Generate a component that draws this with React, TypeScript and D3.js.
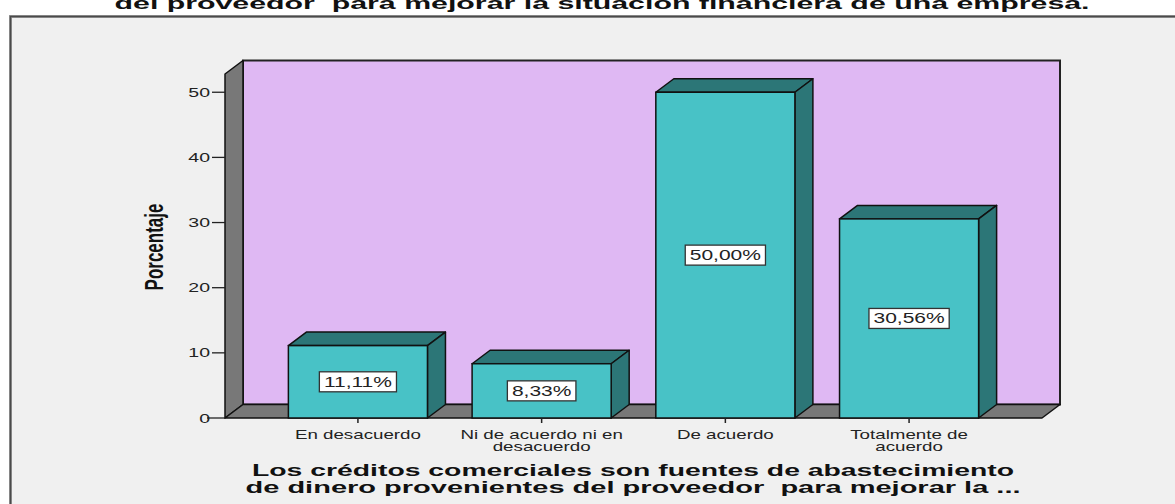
import React from "react";
import * as d3 from "d3";

const categories = ["En desacuerdo", "Ni de acuerdo ni en desacuerdo", "De acuerdo", "Totalmente de acuerdo"];
const categoryLines = [["En desacuerdo"], ["Ni de acuerdo ni en", "desacuerdo"], ["De acuerdo"], ["Totalmente de", "acuerdo"]];
const values = [11.11, 8.33, 50.0, 30.56];
const yTicks = [0, 10, 20, 30, 40, 50];
const yMax = 52.8;
const topTitle = "del proveedor  para mejorar la situación financiera de una empresa.";
const xTitle = ["Los créditos comerciales son fuentes de abastecimiento", "de dinero provenientes del proveedor  para mejorar la ..."];
const yTitle = "Porcentaje";

const W = 1175, H = 504;
const SX = 1.5;
const FONT = "'Liberation Sans', Arial, sans-serif";
const DX = 18, DY = 13.5;

let ctx: CanvasRenderingContext2D | null = null;
function measure(text: string, font: string) {
  if (!ctx) ctx = document.createElement("canvas").getContext("2d");
  if (!ctx) return text.length * 7;
  ctx.font = font;
  return ctx.measureText(text).width;
}

const fmt = (v: number) => d3.format(".2f")(v).replace(".", ",") + "%";

export default function App() {
  const x0 = 225, x1 = 1042, yBase = 418, yTop = 74;
  const x = d3.scaleBand<string>().domain(categories).range([x0, x1]).paddingInner(0.243).paddingOuter(0.345);
  const y = d3.scaleLinear().domain([0, yMax]).range([yBase, yTop]);
  const bw = x.bandwidth();
  const front = "#48c2c6", dark = "#2c7677", wall = "#dfb8f3", gray = "#787878";
  const tickColor = "#222";
  const pre = { whiteSpace: "pre" as const };

  const st = (tx: number, ty: number, extra = "") => `translate(${tx},${ty}) scale(${SX},1)${extra}`;

  return (
    <svg width={W} height={H} style={{ position: "absolute", left: 0, top: 0, background: "#ffffff" }}>
      {/* frame */}
      <rect x={10.5} y={16.5} width={1300} height={600} fill="#f0f0f0" stroke="#9a9a9a" strokeWidth={3} />
      <rect x={10.5} y={16.5} width={1300} height={600} fill="none" stroke="#4a4a4a" strokeWidth={1.5} />
      {/* top title (cut) */}
      <text x={0} y={0} transform={st(602, 9)} textAnchor="middle" fontFamily={FONT} fontWeight="bold" fontSize={17} fill="#111"
        textLength={975 / SX} lengthAdjust="spacingAndGlyphs" style={pre}>{topTitle}</text>

      {/* back wall */}
      <rect x={x0 + DX} y={yTop - DY} width={x1 - x0} height={yBase - yTop} fill={wall} stroke="#222" strokeWidth={2} />
      {/* left wall */}
      <polygon points={`${x0},${yBase} ${x0},${yTop} ${x0 + DX},${yTop - DY} ${x0 + DX},${yBase - DY}`} fill={gray} stroke="#111" strokeWidth={1.5} strokeLinejoin="round" />
      {/* floor */}
      <polygon points={`${x0},${yBase} ${x1},${yBase} ${x1 + DX},${yBase - DY} ${x0 + DX},${yBase - DY}`} fill={gray} stroke="#111" strokeWidth={1.5} strokeLinejoin="round" />

      {/* y axis ticks */}
      {yTicks.map((t) => (
        <g key={t}>
          <line x1={t === 0 ? 207 : 212} x2={x0} y1={y(t)} y2={y(t)} stroke={tickColor} strokeWidth={1.3} />
          <text transform={st(210, y(t) + 4.5)} textAnchor="end" fontFamily={FONT} fontSize={13} fill={tickColor}>{t}</text>
        </g>
      ))}
      <text transform={`translate(163,247) scale(${SX},1) rotate(-90)`} textAnchor="middle" fontFamily={FONT} fontWeight="bold" fontSize={17} fill="#111">{yTitle}</text>

      {/* bars */}
      {categories.map((c, i) => {
        const bx = x(c)!;
        const yv = y(values[i]);
        const label = fmt(values[i]);
        const tw = measure(label, `14px ${FONT}`) * SX;
        const cx = bx + bw / 2;
        const cy = (yv + yBase) / 2;
        return (
          <g key={c}>
            <polygon points={`${bx},${yv} ${bx + DX},${yv - DY} ${bx + bw + DX},${yv - DY} ${bx + bw},${yv}`} fill={dark} stroke="#111" strokeWidth={1.5} strokeLinejoin="round" />
            <polygon points={`${bx + bw},${yv} ${bx + bw + DX},${yv - DY} ${bx + bw + DX},${yBase - DY} ${bx + bw},${yBase}`} fill={dark} stroke="#111" strokeWidth={1.5} strokeLinejoin="round" />
            <rect x={bx} y={yv} width={bw} height={yBase - yv} fill={front} stroke="#111" strokeWidth={1.5} />
            <rect x={cx - tw / 2 - 4.5} y={cy - 10} width={tw + 9} height={20} fill="#ffffff" stroke="#333" strokeWidth={1.3} />
            <text transform={st(cx, cy + 5)} textAnchor="middle" fontFamily={FONT} fontSize={14} fill="#222">{label}</text>
            <line x1={cx} x2={cx} y1={yBase} y2={yBase + 5} stroke={tickColor} strokeWidth={1.5} />
            {categoryLines[i].map((ln, j) => (
              <text key={j} transform={st(cx, 438.5 + j * 12.5)} textAnchor="middle" fontFamily={FONT} fontSize={12.5} fill={tickColor}>{ln}</text>
            ))}
          </g>
        );
      })}

      {/* x title */}
      <text transform={st(633, 476)} textAnchor="middle" fontFamily={FONT} fontWeight="bold" fontSize={16} fill="#111"
        textLength={762 / SX} lengthAdjust="spacingAndGlyphs" style={pre}>{xTitle[0]}</text>
      <text transform={st(633, 493)} textAnchor="middle" fontFamily={FONT} fontWeight="bold" fontSize={16} fill="#111"
        textLength={775 / SX} lengthAdjust="spacingAndGlyphs" style={pre}>{xTitle[1]}</text>
    </svg>
  );
}
